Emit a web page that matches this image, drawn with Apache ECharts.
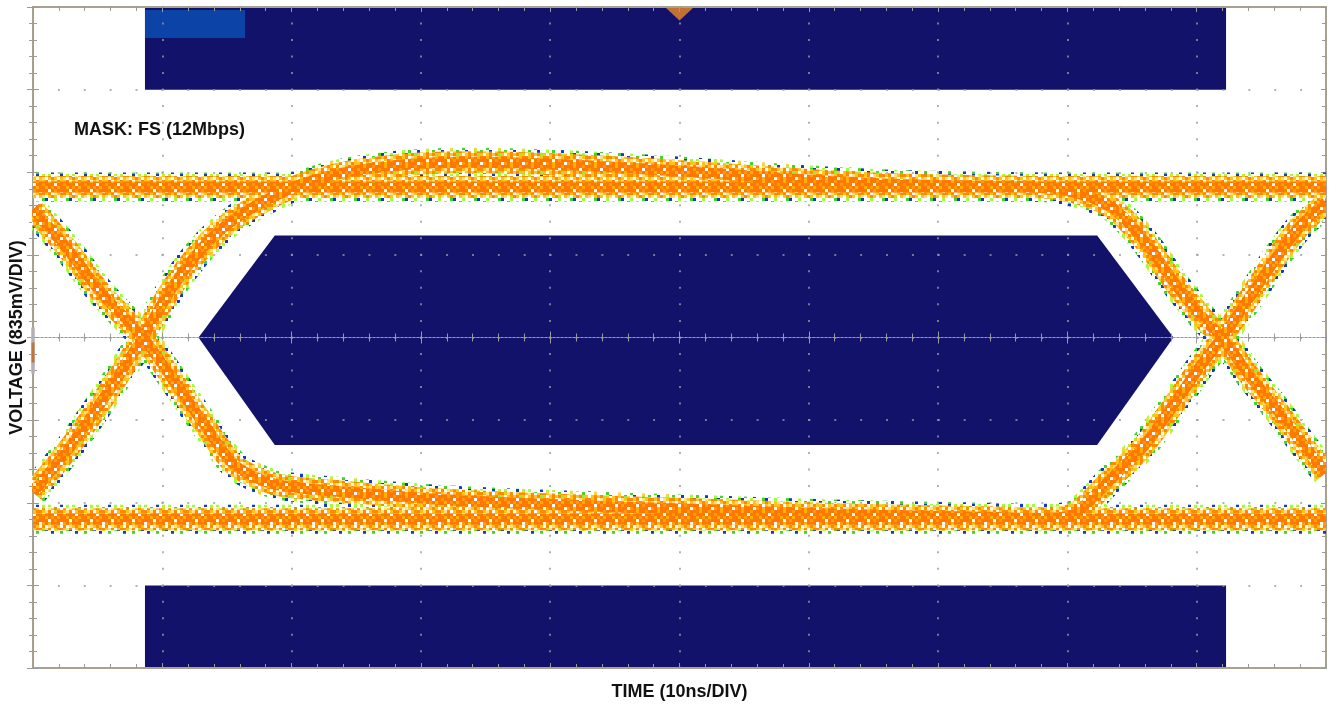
<!DOCTYPE html>
<html><head><meta charset="utf-8">
<script src="https://cdn.jsdelivr.net/npm/echarts@6/dist/echarts.min.js"></script>
<style>html,body{margin:0;padding:0;background:#fff}#c{width:1330px;height:706px}</style>
</head><body><div id="c"></div>
<script>
// ---- axis ranges, in divisions (10 ns/div horizontally, 835 mV/div vertically)
const xRange = [0, 10];
const yRange = [-4, 4];
const xTitle = 'TIME (10ns/DIV)';
const yTitle = 'VOLTAGE (835mV/DIV)';
const maskTitle = 'MASK: FS (12Mbps)';

// ---- mask regions (x div, y div)
const maskTop = [[0.866, 4], [9.227, 4], [9.227, 3.0], [0.866, 3.0]];
const maskBottom = [[0.866, -3.0], [9.227, -3.0], [9.227, -4], [0.866, -4]];
const maskCenter = [[1.28, 0], [1.87, 1.235], [8.23, 1.235], [8.82, 0], [8.23, -1.30], [1.87, -1.30]];
const maskLabelBox = [[0.866, 3.965], [1.64, 3.965], [1.64, 3.625], [0.866, 3.625]];

// ---- eye-diagram traces (x div, y div)
const traceHighLevel = [[0, 1.82], [10, 1.82]];
const traceLowLevel = [[0, -2.20], [10, -2.20]];
const traceRiseLeft = [[0, -1.877], [0.270, -1.356], [0.525, -0.787], [0.850, 0], [1.066, 0.581], [1.298, 1.065],
  [1.553, 1.429], [1.816, 1.671], [2.071, 1.852], [2.457, 2.010], [2.998, 2.107], [3.617, 2.119],
  [4.389, 2.070], [5.162, 1.998], [5.935, 1.913], [6.708, 1.852], [7.481, 1.828]];
const traceFallLeft = [[0, 1.550], [0.270, 1.065], [0.525, 0.545], [0.850, 0], [1.066, -0.472], [1.352, -1.114],
  [1.553, -1.538], [1.762, -1.719], [1.971, -1.804], [2.481, -1.877], [3.153, -1.961], [4.003, -2.022],
  [5.162, -2.082], [6.321, -2.143], [7.481, -2.179]];
const traceFallRight = [[7.481, 1.828], [7.944, 1.792], [8.331, 1.586], [8.586, 1.186], [8.849, 0.617],
  [9.080, 0.182], [9.196, 0], [9.413, -0.472], [9.621, -0.872], [9.853, -1.356], [10, -1.634]];
const traceRiseRight = [[7.481, -2.179], [7.944, -2.179], [8.099, -2.082], [8.331, -1.719], [8.586, -1.320],
  [8.849, -0.751], [9.026, -0.351], [9.196, 0], [9.413, 0.496], [9.621, 0.981], [9.799, 1.344], [10, 1.634]];
const triggerMarker = [[5, 4]];
const levelMarker = [[0, 0]];

const traces = [traceHighLevel, traceLowLevel, traceRiseLeft, traceFallLeft, traceFallRight, traceRiseRight];

// ---- persistence-display textures (fixed hand-made tiles)
function makeTile(rows, palette, cell) {
  const c = document.createElement('canvas');
  c.width = rows[0].length * cell; c.height = rows.length * cell;
  const ctx = c.getContext('2d');
  rows.forEach((r, y) => r.split('').forEach((ch, x) => {
    if (palette[ch]) { ctx.fillStyle = palette[ch]; ctx.fillRect(x * cell, y * cell, cell, cell); }
  }));
  return { image: c, repeat: 'repeat' };
}
const haloTile = makeTile([
  'g..b..l.',
  '..l...gb',
  '.b..g...',
  'l...b.l.',
  '..g...y.'
], { g: '#3ed62a', l: '#9cff3c', b: '#0c3cc8', y: '#ffd040' }, 3);
const midTile = makeTile([
  'yowyloy',
  'owlyoyw',
  'ylowyoo',
  'wyoyogy',
  'oyowlyo',
  'lwyoywy'
], { y: '#ffc21a', o: '#ff8a00', w: '#ffffff', l: '#ffe080', g: '#8cf040' }, 3);
const coreTile = makeTile([
  'ooyooro',
  'rooowoo',
  'oyoroyo',
  'ooworoo',
  'royooow'
], { o: '#ff7800', y: '#ffb000', w: '#ffffff', r: '#ff9a10' }, 3);

const layers = [
  { width: 29, stroke: haloTile, z: 2 },
  { width: 22, stroke: midTile, z: 3 },
  { width: 11, stroke: coreTile, z: 4 }
];

const NAVY = '#12126a';
const FONT = 'Liberation Sans, Arial, sans-serif';

function polySeries(polys, color) {
  return {
    type: 'custom', coordinateSystem: 'cartesian2d', z: -1, silent: true,
    data: polys.map((p, i) => [p[0][0], p[0][1], i]),
    renderItem: (params, api) => ({
      type: 'polygon',
      shape: { points: polys[params.dataIndex].map(p => api.coord(p)) },
      style: { fill: color }
    })
  };
}

const traceSeries = layers.map(l => ({
  type: 'custom', coordinateSystem: 'cartesian2d', z: l.z, silent: true, clip: true,
  data: traces.map((t, i) => [t[0][0], t[0][1], i]),
  renderItem: (params, api) => ({
    type: 'polyline',
    shape: { points: traces[params.dataIndex].map(p => api.coord(p)), smooth: 0.3 },
    style: { stroke: l.stroke, lineWidth: l.width, fill: null, lineJoin: 'round', lineCap: 'butt' }
  })
}));

const gray = '#9a9a9a';
const border = '#aaa290';
function baseAxis(extra) {
  return Object.assign({
    type: 'value', min: 0, max: 1, interval: 1, splitNumber: 5,
    axisLabel: { show: false }, splitLine: { show: false },
    axisLine: { show: false }, axisTick: { show: false }
  }, extra);
}
const tickStyle = { color: gray, width: 1 };

const option = {
  animation: false,
  backgroundColor: '#ffffff',
  grid: { left: 32, right: 4, top: 7, bottom: 38, show: true, borderColor: border, borderWidth: 2, backgroundColor: 'transparent' },
  title: { text: maskTitle, left: 69, top: 116, textStyle: { fontSize: 18, fontWeight: 'bold', color: '#111', fontFamily: FONT } },
  xAxis: [
    baseAxis({ min: xRange[0], max: xRange[1], position: 'bottom',
      axisLine: { show: true, onZero: false, lineStyle: { color: border, width: 2 } },
      axisTick: { show: true, inside: true, length: 5, lineStyle: tickStyle },
      minorTick: { show: true, splitNumber: 5, length: 4, lineStyle: tickStyle },
      splitLine: { show: true, lineStyle: { color: gray, width: 1.5, type: [2, 14.52], dashOffset: 1 } },
      name: xTitle, nameLocation: 'middle', nameGap: 15,
      nameTextStyle: { fontSize: 18, fontWeight: 'bold', color: '#111', fontFamily: FONT } }),
    baseAxis({ min: xRange[0], max: xRange[1], position: 'top',
      axisLine: { show: false, onZero: false },
      axisTick: { show: true, inside: true, length: 5, lineStyle: tickStyle },
      minorTick: { show: true, splitNumber: 5, length: 4, lineStyle: tickStyle } }),
    baseAxis({ min: xRange[0], max: xRange[1], position: 'bottom',
      axisLine: { show: true, onZero: true, onZeroAxisIndex: 0, lineStyle: { color: gray, width: 1, type: [2, 2] } },
      axisTick: { show: true, length: 6, lineStyle: tickStyle },
      minorTick: { show: true, splitNumber: 5, length: 4, lineStyle: tickStyle } }),
    baseAxis({ min: xRange[0], max: xRange[1], position: 'top',
      axisLine: { show: true, onZero: true, onZeroAxisIndex: 0, lineStyle: { color: gray, width: 1, type: [2, 2] } },
      axisTick: { show: true, length: 6, lineStyle: tickStyle },
      minorTick: { show: true, splitNumber: 5, length: 4, lineStyle: tickStyle } })
  ],
  yAxis: [
    baseAxis({ min: yRange[0], max: yRange[1], position: 'left',
      axisLine: { show: true, onZero: false, lineStyle: { color: border, width: 2 } },
      axisTick: { show: true, inside: true, length: 5, lineStyle: tickStyle },
      minorTick: { show: true, splitNumber: 5, length: 4, lineStyle: tickStyle },
      splitLine: { show: true, lineStyle: { color: gray, width: 1.5, type: [2, 23.88], dashOffset: 1 } },
      name: yTitle, nameLocation: 'middle', nameGap: 7,
      nameTextStyle: { fontSize: 18, fontWeight: 'bold', color: '#111', fontFamily: FONT } }),
    baseAxis({ min: yRange[0], max: yRange[1], position: 'right',
      axisLine: { show: false, onZero: false },
      axisTick: { show: true, inside: true, length: 5, lineStyle: tickStyle },
      minorTick: { show: true, splitNumber: 5, length: 4, lineStyle: tickStyle } }),
    baseAxis({ min: yRange[0], max: yRange[1], position: 'left',
      axisLine: { show: true, onZero: true, onZeroAxisIndex: 0, lineStyle: { color: gray, width: 1, type: [2, 2] } },
      axisTick: { show: true, length: 6, lineStyle: tickStyle },
      minorTick: { show: true, splitNumber: 5, length: 4, lineStyle: tickStyle } }),
    baseAxis({ min: yRange[0], max: yRange[1], position: 'right',
      axisLine: { show: true, onZero: true, onZeroAxisIndex: 0, lineStyle: { color: gray, width: 1, type: [2, 2] } },
      axisTick: { show: true, length: 6, lineStyle: tickStyle },
      minorTick: { show: true, splitNumber: 5, length: 4, lineStyle: tickStyle } })
  ],
  series: [
    polySeries([maskTop, maskBottom, maskCenter], NAVY),
    polySeries([maskLabelBox], '#0b44a6'),
    ...traceSeries,
    { type: 'scatter', data: triggerMarker, silent: true, z: 6,
      symbol: 'path://M0,0 L28,0 L14,13 Z', symbolSize: [28, 13], symbolOffset: [0, 7],
      itemStyle: { color: '#f08a26' } },
    { type: 'scatter', data: levelMarker, silent: true, z: 6,
      symbol: 'rect', symbolSize: [4, 46], symbolOffset: [0, 13], itemStyle: { color: '#b4b4bc' } },
    { type: 'scatter', data: levelMarker, silent: true, z: 7,
      symbol: 'rect', symbolSize: [3, 20], symbolOffset: [0, 15], itemStyle: { color: '#c0661a' } }
  ]
};

const chart = echarts.init(document.getElementById('c'), null, { renderer: 'canvas' });
chart.setOption(option);
</script></body></html>
